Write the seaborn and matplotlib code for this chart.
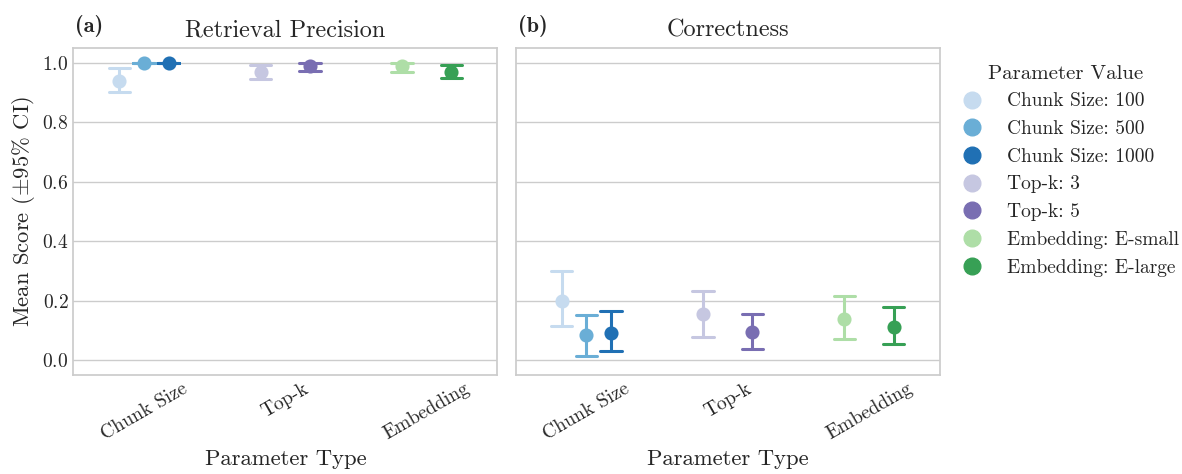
import numpy as np
import pandas as pd
import matplotlib.pyplot as plt
import seaborn as sns
from matplotlib.lines import Line2D

# parameter types (x categories) and their values (hue levels)
param_types = ["Chunk Size", "Top-k", "Embedding"]
param_of = ["Chunk Size", "Chunk Size", "Chunk Size", "Top-k", "Top-k", "Embedding", "Embedding"]
value_labels = ["Chunk Size: 100", "Chunk Size: 500", "Chunk Size: 1000",
                "Top-k: 3", "Top-k: 5", "Embedding: E-small", "Embedding: E-large"]

# Retrieval precision: mean and 95% CI bounds
prec_mean = [0.940, 1.000, 1.000, 0.970, 0.988, 0.990, 0.970]
prec_lo = [0.900, 1.000, 1.000, 0.946, 0.972, 0.969, 0.949]
prec_hi = [0.983, 1.000, 1.000, 0.994, 1.000, 1.000, 0.992]

# Correctness: mean and 95% CI bounds
corr_mean = [0.198, 0.083, 0.092, 0.156, 0.094, 0.138, 0.110]
corr_lo = [0.115, 0.015, 0.032, 0.076, 0.038, 0.070, 0.055]
corr_hi = [0.300, 0.150, 0.166, 0.232, 0.156, 0.217, 0.177]

sns.set_theme(style="whitegrid")
plt.rcParams["font.family"] = "serif"
plt.rcParams["font.serif"] = ["cmr10"]
plt.rcParams["mathtext.fontset"] = "cm"
plt.rcParams["axes.formatter.use_mathtext"] = True
plt.rcParams["axes.unicode_minus"] = False

palettes = {
    "Chunk Size": sns.color_palette("Blues", 3),
    "Top-k": sns.color_palette("Purples", 2),
    "Embedding": sns.color_palette("Greens", 2),
}


def long_frame(mean, lo, hi):
    # three rows per value: median = mean, min/max = CI bounds
    rows = []
    for p, v, m, l, h in zip(param_of, value_labels, mean, lo, hi):
        for s in (l, m, h):
            rows.append({"Parameter": p, "Value": v, "Score": s})
    return pd.DataFrame(rows)


panels = [
    ("(a)", "Retrieval Precision", long_frame(prec_mean, prec_lo, prec_hi)),
    ("(b)", "Correctness", long_frame(corr_mean, corr_lo, corr_hi)),
]

fig, axes = plt.subplots(1, 2, figsize=(11.82, 4.74), dpi=100, sharey=True)
fig.subplots_adjust(left=0.062, right=0.795, top=0.899, bottom=0.209, wspace=0.043)

for ax, (tag, title, df) in zip(axes, panels):
    for ptype in param_types:
        sub = df[df["Parameter"] == ptype]
        levels = [v for p, v in zip(param_of, value_labels) if p == ptype]
        sns.pointplot(data=sub, x="Parameter", y="Score", hue="Value",
                      order=param_types, hue_order=levels, palette=palettes[ptype],
                      estimator="median", errorbar=lambda v: (v.min(), v.max()),
                      dodge=0.35, capsize=0.15, linestyle="none", markers="o",
                      markersize=8.5, linewidth=2.2, legend=False, ax=ax)
    ax.set_title(title, fontsize=17.5, pad=8)
    ax.text(0.005, 1.05, tag, transform=ax.transAxes, fontsize=16,
            fontfamily="cmb10", ha="left", va="baseline")
    ax.set_xlabel("Parameter Type", fontsize=16.3)
    ax.tick_params(axis="both", length=0, labelsize=14)
    ax.tick_params(axis="x", rotation=30)

axes[0].set_ylim(-0.05, 1.05)
axes[0].set_yticks([0.0, 0.2, 0.4, 0.6, 0.8, 1.0])
axes[0].set_ylabel(r"Mean Score ($\pm$95% CI)", fontsize=16.3)
axes[1].set_ylabel("")

all_colors = palettes["Chunk Size"] + palettes["Top-k"] + palettes["Embedding"]
handles = [Line2D([], [], marker="o", linestyle="", color=c, markersize=12)
           for c in all_colors]
fig.legend(handles, value_labels, title="Parameter Value", loc="upper left",
           bbox_to_anchor=(0.791, 0.9), frameon=False, fontsize=14, title_fontsize=15)

plt.savefig("out.png", dpi=100)
